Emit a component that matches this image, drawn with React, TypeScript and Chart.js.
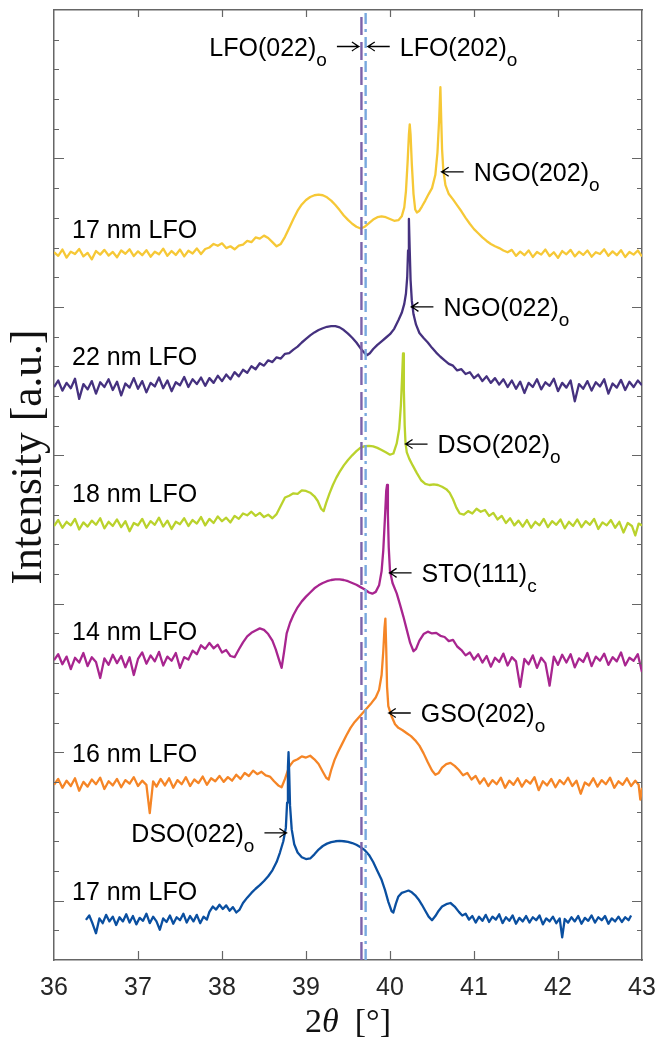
import React, { useEffect, useRef } from 'react';
import { Chart, registerables } from 'chart.js';

Chart.register(...registerables);

const W = 657;
const H = 1044;

// axis ranges and ticks
const xRange = [36, 43];
const yRange = [0, 32];
const xTickStep = 1;
const yTickStep = 1;

// reference lines (LFO bulk peak positions)
const lfo022 = 39.66;
const lfo202 = 39.71;

// series (2theta in degrees, offset intensity in a.u.)
const yellow17nmNGO: [number, number][] = [
  [36.00,23.84],[36.05,23.72],[36.10,23.93],[36.15,23.66],[36.20,23.86],[36.25,23.78],[36.30,23.95],[36.35,23.70],[36.40,23.82],[36.45,23.60],
  [36.50,23.88],[36.55,23.76],[36.60,23.92],[36.65,23.73],[36.70,23.85],[36.75,23.67],[36.80,23.90],[36.85,23.79],[36.90,23.94],[36.95,23.71],
  [37.00,23.87],[37.05,23.74],[37.10,23.91],[37.15,23.69],[37.20,23.86],[37.25,23.77],[37.30,23.96],[37.35,23.72],[37.40,23.88],[37.45,23.75],
  [37.50,23.93],[37.55,23.70],[37.60,23.89],[37.65,23.80],[37.70,23.97],[37.75,23.78],[37.80,23.95],[37.85,24.00],[37.90,24.12],[37.95,24.06],
  [38.00,24.14],[38.05,23.98],[38.10,24.04],[38.15,23.94],[38.20,24.06],[38.25,24.10],[38.30,24.22],[38.35,24.18],[38.40,24.34],[38.45,24.30],
  [38.50,24.40],[38.55,24.32],[38.60,24.18],[38.65,24.04],[38.70,24.12],[38.75,24.36],[38.80,24.66],[38.85,24.96],[38.90,25.24],[38.95,25.45],
  [39.00,25.60],[39.05,25.70],[39.10,25.76],[39.15,25.78],[39.20,25.76],[39.25,25.69],[39.30,25.58],[39.35,25.43],[39.40,25.26],[39.45,25.08],
  [39.50,24.93],[39.55,24.80],[39.60,24.70],[39.65,24.64],[39.70,24.70],[39.75,24.82],[39.80,24.94],[39.85,25.02],[39.90,25.05],[39.95,25.02],
  [40.00,24.96],[40.05,24.90],[40.10,24.92],[40.14,25.05],[40.17,25.35],[40.19,25.90],[40.21,26.90],[40.225,27.80],[40.235,28.15],[40.245,27.80],
  [40.26,26.80],[40.28,25.80],[40.30,25.28],[40.32,25.18],[40.35,25.24],[40.38,25.38],[40.42,25.58],[40.46,25.80],[40.50,26.00],[40.54,26.45],
  [40.565,27.20],[40.585,28.30],[40.60,29.40],[40.61,28.30],[40.62,27.30],[40.635,26.60],[40.66,26.10],[40.70,25.80],[40.75,25.62],[40.80,25.42],
  [40.85,25.22],[40.90,25.00],[40.95,24.80],[41.00,24.62],[41.05,24.48],[41.10,24.34],[41.15,24.22],[41.20,24.12],[41.25,24.04],[41.30,23.98],
  [41.35,23.90],[41.40,23.84],[41.45,23.92],[41.50,23.72],[41.55,23.86],[41.60,23.74],[41.65,23.90],[41.70,23.68],[41.75,23.85],[41.80,23.76],
  [41.85,23.93],[41.90,23.71],[41.95,23.84],[42.00,23.65],[42.05,23.88],[42.10,23.77],[42.15,23.92],[42.20,23.70],[42.25,23.86],[42.30,23.75],
  [42.35,23.90],[42.40,23.69],[42.45,23.84],[42.50,23.78],[42.55,23.94],[42.60,23.72],[42.65,23.87],[42.70,23.74],[42.75,23.91],[42.80,23.68],
  [42.85,23.85],[42.90,23.76],[42.95,23.90],[43.00,23.70],
];

const purple22nmNGO: [number, number][] = [
  [36.00,19.30],[36.05,19.52],[36.10,19.18],[36.15,19.44],[36.20,19.26],[36.25,19.58],[36.30,18.90],[36.35,19.40],[36.40,19.22],[36.45,19.50],
  [36.50,19.08],[36.55,19.46],[36.60,19.30],[36.65,19.56],[36.70,19.20],[36.75,19.48],[36.80,19.02],[36.85,19.42],[36.90,19.28],[36.95,19.60],
  [37.00,19.24],[37.05,19.50],[37.10,19.12],[37.15,19.44],[37.20,19.32],[37.25,19.62],[37.30,19.26],[37.35,19.52],[37.40,19.16],[37.45,19.46],
  [37.50,19.36],[37.55,19.64],[37.60,19.30],[37.65,19.56],[37.70,19.40],[37.75,19.62],[37.80,19.34],[37.85,19.60],[37.90,19.44],[37.95,19.68],
  [38.00,19.50],[38.05,19.72],[38.10,19.56],[38.15,19.80],[38.20,19.66],[38.25,19.88],[38.30,19.78],[38.35,20.00],[38.40,19.90],[38.45,20.10],
  [38.50,20.02],[38.55,20.20],[38.60,20.14],[38.65,20.30],[38.70,20.26],[38.75,20.42],[38.80,20.44],[38.85,20.56],[38.90,20.66],[38.95,20.80],
  [39.00,20.92],[39.05,21.04],[39.10,21.14],[39.15,21.22],[39.20,21.28],[39.25,21.33],[39.30,21.35],[39.35,21.35],[39.40,21.31],[39.45,21.22],
  [39.50,21.10],[39.55,20.96],[39.60,20.80],[39.65,20.60],[39.70,20.44],[39.73,20.38],[39.76,20.44],[39.80,20.58],[39.85,20.72],[39.90,20.84],
  [39.95,20.96],[40.00,21.08],[40.05,21.26],[40.10,21.55],[40.14,21.80],[40.17,22.10],[40.19,22.45],[40.205,23.00],[40.215,23.90],[40.225,24.96],
  [40.235,23.90],[40.245,22.90],[40.26,22.20],[40.28,21.75],[40.31,21.40],[40.35,21.12],[40.40,20.95],[40.45,20.80],[40.50,20.62],[40.55,20.46],
  [40.60,20.32],[40.65,20.20],[40.70,20.08],[40.75,20.02],[40.80,19.86],[40.85,19.90],[40.90,19.74],[40.95,19.80],[41.00,19.60],[41.05,19.72],
  [41.10,19.50],[41.15,19.66],[41.20,19.44],[41.25,19.60],[41.30,19.38],[41.35,19.56],[41.40,19.30],[41.45,19.52],[41.50,19.24],[41.55,19.48],
  [41.60,19.10],[41.65,19.44],[41.70,19.30],[41.75,19.56],[41.80,19.22],[41.85,19.46],[41.90,19.34],[41.95,19.58],[42.00,19.16],[42.05,19.44],
  [42.10,19.28],[42.15,19.52],[42.20,18.82],[42.25,19.40],[42.30,19.24],[42.35,19.50],[42.40,19.18],[42.45,19.46],[42.50,19.32],[42.55,19.56],
  [42.60,19.08],[42.65,19.42],[42.70,19.28],[42.75,19.54],[42.80,19.20],[42.85,19.48],[42.90,19.30],[42.95,19.52],[43.00,19.36],
];

const green18nmDSO: [number, number][] = [
  [36.00,14.62],[36.05,14.82],[36.10,14.56],[36.15,14.76],[36.20,14.64],[36.25,14.86],[36.30,14.50],[36.35,14.74],[36.40,14.60],[36.45,14.80],
  [36.50,14.66],[36.55,14.88],[36.60,14.54],[36.65,14.76],[36.70,14.62],[36.75,14.84],[36.80,14.58],[36.85,14.78],[36.90,14.44],[36.95,14.72],
  [37.00,14.64],[37.05,14.86],[37.10,14.56],[37.15,14.78],[37.20,14.66],[37.25,14.90],[37.30,14.60],[37.35,14.80],[37.40,14.52],[37.45,14.76],
  [37.50,14.68],[37.55,14.88],[37.60,14.62],[37.65,14.82],[37.70,14.70],[37.75,14.92],[37.80,14.64],[37.85,14.86],[37.90,14.72],[37.95,14.94],
  [38.00,14.78],[38.05,14.90],[38.10,14.74],[38.15,14.96],[38.20,14.86],[38.25,15.04],[38.30,14.98],[38.35,15.10],[38.40,14.96],[38.45,15.06],
  [38.50,14.92],[38.55,15.00],[38.60,14.88],[38.65,15.02],[38.70,15.30],[38.75,15.58],[38.80,15.64],[38.85,15.72],[38.90,15.70],[38.95,15.82],
  [39.00,15.80],[39.05,15.74],[39.10,15.62],[39.14,15.46],[39.18,15.20],[39.21,15.12],[39.24,15.40],[39.28,15.72],[39.32,16.00],[39.36,16.24],
  [39.40,16.44],[39.45,16.66],[39.50,16.84],[39.55,17.00],[39.60,17.14],[39.65,17.26],[39.70,17.31],[39.75,17.32],[39.80,17.30],[39.85,17.25],
  [39.90,17.18],[39.95,17.10],[40.00,17.02],[40.04,17.06],[40.08,17.40],[40.11,17.90],[40.13,18.70],[40.145,19.70],[40.155,20.43],[40.165,19.20],
  [40.175,18.00],[40.185,17.40],[40.20,17.10],[40.23,16.88],[40.27,16.66],[40.32,16.40],[40.37,16.16],[40.42,16.04],[40.47,16.00],[40.52,16.02],
  [40.57,16.00],[40.62,15.94],[40.67,15.86],[40.71,15.74],[40.75,15.52],[40.79,15.24],[40.83,15.04],[40.88,15.00],[40.93,15.12],[40.98,15.04],
  [41.03,15.20],[41.08,15.10],[41.13,15.16],[41.18,14.96],[41.23,15.06],[41.28,14.84],[41.33,14.96],[41.38,14.72],[41.43,14.88],[41.48,14.64],
  [41.53,14.80],[41.58,14.60],[41.63,14.82],[41.68,14.56],[41.73,14.76],[41.78,14.64],[41.83,14.86],[41.88,14.58],[41.93,14.78],[41.98,14.66],
  [42.03,14.84],[42.08,14.54],[42.13,14.76],[42.18,14.62],[42.23,14.84],[42.28,14.58],[42.33,14.78],[42.38,14.66],[42.43,14.86],[42.48,14.52],
  [42.53,14.74],[42.58,14.64],[42.63,14.82],[42.68,14.56],[42.73,14.76],[42.78,14.40],[42.83,14.72],[42.88,14.62],[42.92,14.30],[42.96,14.70],
  [43.00,14.64],
];

const magenta14nmSTO: [number, number][] = [
  [36.00,10.10],[36.05,10.30],[36.10,9.96],[36.15,10.22],[36.20,9.80],[36.25,10.18],[36.30,10.02],[36.35,10.34],[36.40,9.90],[36.45,10.20],
  [36.50,10.04],[36.55,9.50],[36.60,10.16],[36.65,9.94],[36.70,10.28],[36.75,10.00],[36.80,10.24],[36.85,9.86],[36.90,10.20],[36.95,9.60],
  [37.00,10.14],[37.05,10.36],[37.10,9.98],[37.15,10.26],[37.20,10.06],[37.25,10.38],[37.30,9.92],[37.35,10.22],[37.40,10.08],[37.45,10.34],
  [37.50,9.84],[37.55,10.20],[37.60,10.12],[37.65,10.42],[37.70,10.30],[37.75,10.60],[37.80,10.48],[37.85,10.68],[37.90,10.50],[37.95,10.62],
  [38.00,10.36],[38.05,10.44],[38.10,10.24],[38.15,10.20],[38.20,10.46],[38.25,10.70],[38.30,10.90],[38.35,11.02],[38.40,11.10],[38.45,11.17],
  [38.50,11.12],[38.55,10.98],[38.60,10.76],[38.64,10.46],[38.68,10.10],[38.71,9.84],[38.74,10.40],[38.77,11.00],[38.81,11.36],[38.85,11.62],
  [38.90,11.88],[38.95,12.08],[39.00,12.24],[39.05,12.38],[39.10,12.52],[39.15,12.62],[39.20,12.70],[39.25,12.76],[39.30,12.80],[39.35,12.82],
  [39.40,12.82],[39.45,12.80],[39.50,12.76],[39.55,12.70],[39.60,12.64],[39.65,12.56],[39.70,12.48],[39.75,12.38],[39.79,12.34],[39.83,12.40],
  [39.87,12.62],[39.90,13.10],[39.92,13.80],[39.94,14.90],[39.955,15.80],[39.965,16.00],[39.975,15.00],[39.985,13.90],[40.00,13.10],[40.03,12.70],
  [40.08,12.35],[40.12,11.96],[40.16,11.56],[40.20,11.12],[40.24,10.68],[40.28,10.40],[40.31,10.48],[40.35,10.76],[40.40,10.98],[40.45,11.06],
  [40.50,11.00],[40.55,11.02],[40.60,10.92],[40.65,10.88],[40.70,10.74],[40.75,10.78],[40.80,10.56],[40.85,10.44],[40.90,10.26],[40.95,10.36],
  [41.00,10.12],[41.05,10.30],[41.10,10.02],[41.15,10.24],[41.20,9.88],[41.25,10.18],[41.30,10.04],[41.35,10.32],[41.40,9.92],[41.45,10.20],
  [41.50,10.06],[41.55,9.20],[41.60,10.14],[41.65,9.96],[41.70,10.26],[41.75,9.84],[41.80,10.18],[41.85,10.00],[41.90,9.24],[41.95,10.22],
  [42.00,9.94],[42.05,10.28],[42.10,10.02],[42.15,10.30],[42.20,9.86],[42.25,10.16],[42.30,10.04],[42.35,10.34],[42.40,9.90],[42.45,10.22],
  [42.50,10.08],[42.55,10.32],[42.60,9.94],[42.65,10.20],[42.70,10.06],[42.75,10.36],[42.80,9.92],[42.85,10.18],[42.90,10.08],[42.95,10.30],
  [43.00,9.70],
];

const orange16nmGSO: [number, number][] = [
  [36.00,5.90],[36.05,6.10],[36.10,5.80],[36.15,6.04],[36.20,5.86],[36.25,6.12],[36.30,5.70],[36.35,6.00],[36.40,5.84],[36.45,6.08],
  [36.50,5.92],[36.55,6.14],[36.60,5.76],[36.65,6.02],[36.70,5.88],[36.75,6.10],[36.80,5.82],[36.85,6.06],[36.90,5.94],[36.95,6.16],
  [37.00,5.86],[37.05,6.04],[37.10,5.90],[37.14,4.95],[37.18,6.02],[37.22,5.84],[37.27,6.10],[37.32,5.88],[37.37,6.12],[37.42,5.80],
  [37.47,6.06],[37.52,5.92],[37.57,6.16],[37.62,5.86],[37.67,6.08],[37.72,5.96],[37.77,6.18],[37.82,5.90],[37.87,6.12],[37.92,6.02],
  [37.97,6.20],[38.02,6.00],[38.07,6.16],[38.12,6.04],[38.17,6.24],[38.22,6.10],[38.27,6.30],[38.32,6.20],[38.37,6.38],[38.42,6.26],
  [38.47,6.34],[38.52,6.22],[38.57,6.18],[38.62,6.02],[38.67,5.88],[38.71,5.82],[38.75,6.10],[38.80,6.52],[38.85,6.70],[38.90,6.76],
  [38.95,6.86],[39.00,6.82],[39.05,6.88],[39.10,6.76],[39.15,6.60],[39.20,6.34],[39.24,6.14],[39.27,6.08],[39.30,6.40],[39.34,6.74],
  [39.38,7.00],[39.43,7.28],[39.48,7.56],[39.53,7.82],[39.58,8.02],[39.63,8.18],[39.68,8.34],[39.73,8.50],[39.78,8.66],[39.83,8.84],
  [39.87,9.10],[39.90,9.60],[39.92,10.40],[39.935,11.20],[39.945,11.50],[39.955,10.50],[39.965,9.20],[39.98,8.55],[40.02,8.20],[40.06,7.94],
  [40.10,7.82],[40.15,7.74],[40.20,7.64],[40.25,7.54],[40.30,7.40],[40.35,7.22],[40.40,6.96],[40.45,6.66],[40.50,6.38],[40.54,6.24],
  [40.58,6.30],[40.62,6.48],[40.67,6.60],[40.72,6.64],[40.77,6.54],[40.82,6.40],[40.87,6.22],[40.92,6.30],[40.97,6.08],[41.02,6.20],
  [41.07,5.94],[41.12,6.12],[41.17,5.86],[41.22,6.06],[41.27,5.92],[41.32,6.14],[41.37,5.80],[41.42,6.04],[41.47,5.90],[41.52,6.12],
  [41.57,5.84],[41.62,6.06],[41.67,5.94],[41.72,6.16],[41.77,5.72],[41.82,6.02],[41.87,5.88],[41.92,6.10],[41.97,5.82],[42.02,6.06],
  [42.07,5.92],[42.12,6.14],[42.17,5.86],[42.22,6.04],[42.27,5.60],[42.32,5.98],[42.37,5.88],[42.42,6.12],[42.47,5.84],[42.52,6.06],
  [42.57,5.92],[42.62,6.14],[42.67,5.80],[42.72,6.02],[42.77,5.90],[42.82,6.12],[42.87,5.86],[42.92,6.04],[42.96,5.90],[42.98,5.40],
  [43.00,5.80],
];

const blue17nmDSO: [number, number][] = [
  [36.38,1.35],[36.42,1.50],[36.46,1.22],[36.50,0.90],[36.54,1.40],[36.58,1.24],[36.62,1.52],[36.66,1.30],[36.70,1.46],[36.74,1.18],
  [36.78,1.44],[36.82,1.30],[36.86,1.54],[36.90,1.26],[36.94,1.48],[36.98,1.20],[37.02,1.42],[37.06,1.32],[37.10,1.56],[37.14,1.24],
  [37.18,1.46],[37.22,1.30],[37.26,1.02],[37.30,1.40],[37.34,1.28],[37.38,1.50],[37.42,1.22],[37.46,1.44],[37.50,1.34],[37.54,1.56],
  [37.58,1.26],[37.62,1.48],[37.66,1.30],[37.70,1.52],[37.74,1.24],[37.78,1.46],[37.82,1.36],[37.85,1.62],[37.89,1.80],[37.93,1.70],
  [37.97,1.86],[38.01,1.72],[38.05,1.84],[38.09,1.66],[38.13,1.78],[38.17,1.60],[38.21,1.70],[38.25,1.92],[38.30,2.10],[38.35,2.26],
  [38.40,2.40],[38.45,2.52],[38.50,2.66],[38.55,2.82],[38.60,3.02],[38.65,3.30],[38.69,3.62],[38.73,4.00],[38.76,4.45],[38.775,5.30],
  [38.785,6.50],[38.792,7.00],[38.80,6.30],[38.81,5.20],[38.83,4.40],[38.86,3.90],[38.90,3.62],[38.95,3.46],[39.00,3.40],[39.05,3.42],
  [39.10,3.56],[39.15,3.72],[39.20,3.84],[39.25,3.92],[39.30,3.97],[39.35,4.00],[39.40,4.01],[39.45,4.00],[39.50,3.98],[39.55,3.94],
  [39.60,3.88],[39.65,3.80],[39.70,3.70],[39.75,3.54],[39.80,3.30],[39.85,3.00],[39.90,2.70],[39.94,2.36],[39.98,1.96],[40.02,1.64],
  [40.04,1.60],[40.07,1.90],[40.10,2.14],[40.14,2.26],[40.18,2.30],[40.22,2.34],[40.26,2.28],[40.30,2.18],[40.34,2.04],[40.38,1.86],
  [40.42,1.66],[40.46,1.46],[40.50,1.34],[40.54,1.48],[40.58,1.66],[40.62,1.80],[40.67,1.88],[40.72,1.92],[40.77,1.80],[40.82,1.62],
  [40.86,1.50],[40.90,1.56],[40.94,1.36],[40.98,1.48],[41.02,1.26],[41.06,1.46],[41.10,1.32],[41.14,1.52],[41.18,1.28],[41.22,1.46],
  [41.26,1.36],[41.30,1.54],[41.34,1.24],[41.38,1.44],[41.42,1.32],[41.46,1.50],[41.50,1.22],[41.54,1.42],[41.58,1.30],[41.62,1.48],
  [41.66,1.26],[41.70,1.44],[41.74,1.34],[41.78,1.50],[41.82,1.20],[41.86,1.40],[41.90,1.30],[41.94,1.46],[41.98,1.24],[42.02,1.40],
  [42.05,0.76],[42.08,1.38],[42.12,1.26],[42.16,1.44],[42.20,1.30],[42.24,1.48],[42.28,1.22],[42.32,1.42],[42.36,1.32],[42.40,1.50],
  [42.44,1.26],[42.48,1.44],[42.52,1.34],[42.56,1.48],[42.60,1.22],[42.64,1.40],[42.68,1.30],[42.72,1.46],[42.76,1.28],[42.80,1.44],
  [42.84,1.34],[42.87,1.50],
];

// text annotations
const seriesNames = ['17 nm LFO', '22 nm LFO', '18 nm LFO', '14 nm LFO', '16 nm LFO', '17 nm LFO'];
const seriesLabelX = 36.215;
const seriesLabelY = [24.32, 20.04, 15.43, 10.78, 6.67, 2.02];

const peakNames = ['LFO(022)', 'LFO(202)', 'NGO(202)', 'NGO(022)', 'DSO(202)', 'STO(111)', 'GSO(202)', 'DSO(022)'];
const peakSubs = ['o', 'o', 'o', 'o', 'o', 'c', 'o', 'o'];
const peakX = [39.63, 39.735, 40.615, 40.255, 40.185, 39.995, 39.985, 38.767];
const peakY = [30.77, 30.77, 26.55, 22.0, 17.38, 13.04, 8.32, 4.28];
const peakDir = ['right', 'left', 'left', 'left', 'left', 'left', 'left', 'right'];

const COLORS = {
  yellow: '#F6C836',
  purple: '#45317F',
  green: '#BAD22C',
  magenta: '#A8258F',
  orange: '#F58526',
  blue: '#0A4FA0',
  lfo022: '#7D62A9',
  lfo202: '#78A9DE',
  axis: '#666666',
  text: '#000000',
};

const SANS = '"Liberation Sans", Arial, Helvetica, sans-serif';
const SERIF = '"Liberation Serif", "Times New Roman", serif';

const toPoints = (arr: [number, number][]) => arr.map(([x, y]) => ({ x, y }));

function arrow(ctx: CanvasRenderingContext2D, from: number, to: number, y: number) {
  const d = Math.sign(to - from);
  ctx.beginPath();
  ctx.moveTo(from, y);
  ctx.lineTo(to, y);
  ctx.moveTo(to - d * 7, y - 4.5);
  ctx.quadraticCurveTo(to - d * 2, y - 1, to, y);
  ctx.quadraticCurveTo(to - d * 2, y + 1, to - d * 7, y + 4.5);
  ctx.stroke();
}

const annotationPlugin = {
  id: 'xrdAnnotations',
  afterDatasetsDraw(chart: any) {
    const { ctx, scales } = chart;
    const xs = scales.x;
    const ys = scales.y;
    ctx.save();
    ctx.fillStyle = COLORS.text;
    ctx.strokeStyle = COLORS.text;
    ctx.lineWidth = 1.3;
    ctx.textBaseline = 'alphabetic';
    ctx.textAlign = 'left';
    const mainFont = `25px ${SANS}`;
    const subFont = `19px ${SANS}`;
    ctx.font = mainFont;
    seriesNames.forEach((name, i) => {
      ctx.fillText(name, xs.getPixelForValue(seriesLabelX), ys.getPixelForValue(seriesLabelY[i]));
    });
    const arrowLen = 22;
    const gap = 10;
    peakNames.forEach((name, i) => {
      const tx = xs.getPixelForValue(peakX[i]);
      const ty = ys.getPixelForValue(peakY[i]);
      const base = ty + 9;
      ctx.font = mainFont;
      const mw = ctx.measureText(name).width;
      ctx.font = subFont;
      const sw = ctx.measureText(peakSubs[i]).width;
      let start: number;
      if (peakDir[i] === 'left') {
        arrow(ctx, tx + arrowLen, tx, ty);
        start = tx + arrowLen + gap;
      } else {
        arrow(ctx, tx - arrowLen, tx, ty);
        start = tx - arrowLen - gap - (mw + sw);
      }
      ctx.font = mainFont;
      ctx.fillText(name, start, base);
      ctx.font = subFont;
      ctx.fillText(peakSubs[i], start + mw, base + 10);
    });
    ctx.restore();
  },
  afterDraw(chart: any) {
    const { ctx, chartArea: a, scales } = chart;
    const xs = scales.x;
    const ys = scales.y;
    ctx.save();
    ctx.strokeStyle = COLORS.axis;
    ctx.lineWidth = 1.2;
    xs.ticks.forEach((t: any) => {
      const px = Math.round(xs.getPixelForValue(t.value)) + 0.5;
      if (px <= a.left + 2 || px >= a.right - 2) return;
      ctx.beginPath();
      ctx.moveTo(px, a.bottom);
      ctx.lineTo(px, a.bottom - 9);
      ctx.moveTo(px, a.top);
      ctx.lineTo(px, a.top + 7);
      ctx.stroke();
    });
    ys.ticks.forEach((t: any) => {
      const py = Math.round(ys.getPixelForValue(t.value)) + 0.5;
      if (py <= a.top + 2 || py >= a.bottom - 2) return;
      const len = (Math.round(t.value) - 2) % 5 === 0 ? 10 : 5;
      ctx.beginPath();
      ctx.moveTo(a.left, py);
      ctx.lineTo(a.left + len, py);
      ctx.moveTo(a.right, py);
      ctx.lineTo(a.right - len, py);
      ctx.stroke();
    });
    // axis titles
    ctx.fillStyle = '#111111';
    ctx.textBaseline = 'alphabetic';
    const cx = (a.left + a.right) / 2;
    const upright = `34px ${SERIF}`;
    const italic = `italic 34px ${SERIF}`;
    ctx.font = upright;
    const w2 = ctx.measureText('2').width;
    const wb = ctx.measureText('[°]').width;
    ctx.font = italic;
    const wt = ctx.measureText('θ').width;
    const spacer = 16;
    const total = w2 + wt + spacer + wb;
    let x0 = cx - total / 2;
    const by = 1032;
    ctx.textAlign = 'left';
    ctx.font = upright;
    ctx.fillText('2', x0, by);
    x0 += w2;
    ctx.font = italic;
    ctx.fillText('θ', x0, by);
    x0 += wt + spacer;
    ctx.font = upright;
    ctx.fillText('[°]', x0, by);
    ctx.save();
    ctx.translate(30, 457);
    ctx.rotate(-Math.PI / 2);
    ctx.font = `43.5px ${SERIF}`;
    ctx.textAlign = 'center';
    ctx.textBaseline = 'middle';
    ctx.fillText('Intensity [a.u.]', 0, 0);
    ctx.restore();
    ctx.restore();
  },
};

export default function App() {
  const ref = useRef<HTMLCanvasElement | null>(null);
  useEffect(() => {
    document.body.style.margin = '0';
    if (!ref.current) return;
    const border = { display: true, color: COLORS.axis, width: 1.5 };
    const hiddenGrid = { display: false, drawTicks: false };
    const curve = (data: [number, number][], color: string) => ({
      data: toPoints(data),
      borderColor: color,
      borderWidth: 2.3,
      pointRadius: 0,
      fill: false,
      tension: 0,
      borderJoinStyle: 'round' as const,
    });
    const vline = (x: number, color: string, dash: number[]) => ({
      data: [{ x, y: yRange[0] }, { x, y: yRange[1] }],
      borderColor: color,
      borderWidth: 2.4,
      borderDash: dash,
      pointRadius: 0,
      fill: false,
    });
    const noPad = (s: any) => { s.paddingLeft = 0; s.paddingRight = 0; s.paddingTop = 0; s.paddingBottom = 0; };
    const chart = new Chart(ref.current, {
      type: 'line',
      data: {
        datasets: [
          vline(lfo022, COLORS.lfo022, [18, 7]),
          vline(lfo202, COLORS.lfo202, [11, 5, 3, 5]),
          curve(blue17nmDSO, COLORS.blue),
          curve(orange16nmGSO, COLORS.orange),
          curve(magenta14nmSTO, COLORS.magenta),
          curve(green18nmDSO, COLORS.green),
          curve(purple22nmNGO, COLORS.purple),
          curve(yellow17nmNGO, COLORS.yellow),
        ],
      },
      options: {
        animation: false,
        responsive: false,
        maintainAspectRatio: false,
        layout: { padding: 0, autoPadding: false },
        plugins: { legend: { display: false }, tooltip: { enabled: false } },
        scales: {
          x: {
            type: 'linear',
            position: 'bottom',
            min: xRange[0],
            max: xRange[1],
            grid: hiddenGrid,
            border,
            ticks: {
              stepSize: xTickStep,
              autoSkip: false,
              maxRotation: 0,
              padding: 13,
              color: '#262626',
              font: { family: SANS, size: 25 },
            },
            afterFit: (s: any) => { s.height = 84; noPad(s); },
          },
          xTop: {
            type: 'linear',
            position: 'top',
            min: xRange[0],
            max: xRange[1],
            grid: hiddenGrid,
            border,
            ticks: { display: false, stepSize: xTickStep },
            afterFit: (s: any) => { s.height = 10; noPad(s); },
          },
          y: {
            type: 'linear',
            position: 'left',
            min: yRange[0],
            max: yRange[1],
            grid: hiddenGrid,
            border,
            ticks: { display: false, stepSize: yTickStep },
            afterFit: (s: any) => { s.width = 54; noPad(s); },
          },
          yRight: {
            type: 'linear',
            position: 'right',
            min: yRange[0],
            max: yRange[1],
            grid: hiddenGrid,
            border,
            ticks: { display: false, stepSize: yTickStep },
            afterFit: (s: any) => { s.width = 15; noPad(s); },
          },
        },
      } as any,
      plugins: [annotationPlugin],
    });
    return () => chart.destroy();
  }, []);
  return (
    <div style={{ width: W, height: H }}>
      <canvas ref={ref} width={W} height={H} style={{ display: 'block', width: W, height: H }} />
    </div>
  );
}
